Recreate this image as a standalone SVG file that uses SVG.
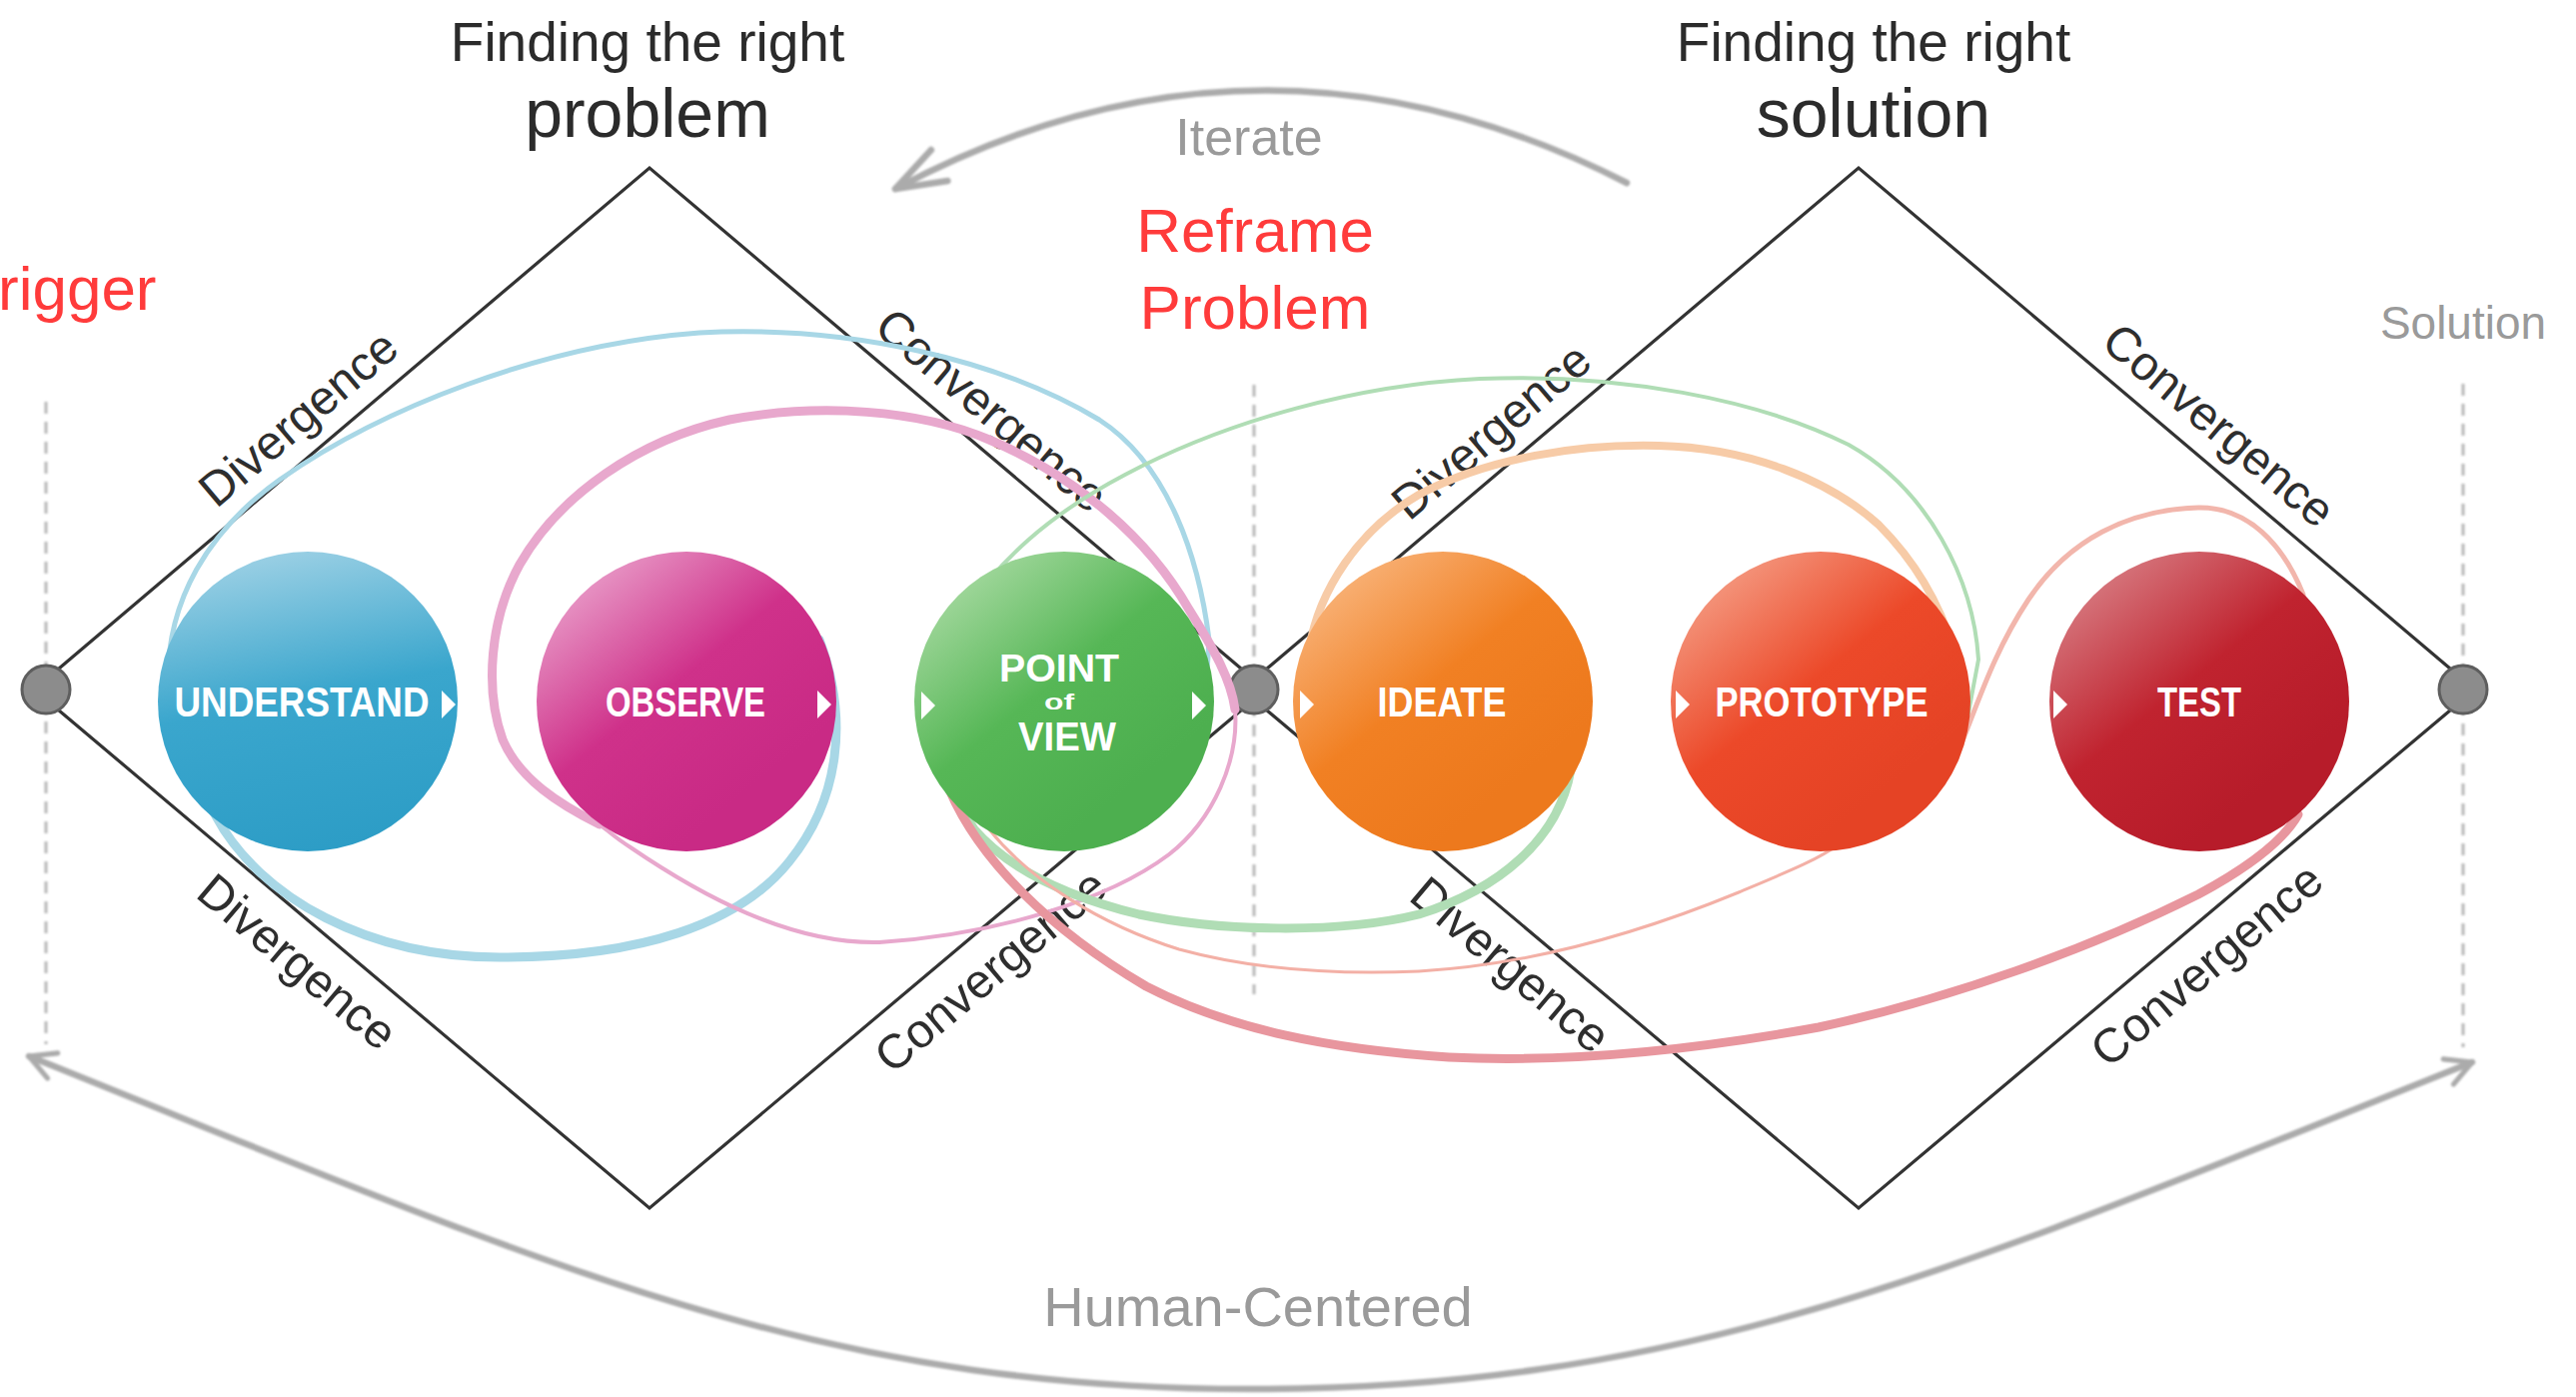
<svg xmlns="http://www.w3.org/2000/svg" width="2578" height="1398" viewBox="0 0 2578 1398">
<defs>
<style>
.title{font-family:"Liberation Sans",Arial,sans-serif;fill:#2b2b2b;text-anchor:middle}
.gray{font-family:"Liberation Sans",Arial,sans-serif;fill:#9a9a9a;text-anchor:middle}
.red{font-family:"Liberation Sans",Arial,sans-serif;fill:#FF3B3B;font-size:62px}
.lbl{font-family:"Liberation Sans",Arial,sans-serif;font-size:48px;fill:#2e2e2e;text-anchor:middle}
.edge{fill:none;stroke:#333;stroke-width:3.2;stroke-linejoin:miter}
.dash{fill:none;stroke:#b8b8b8;stroke-width:3;stroke-dasharray:12 8}
.dot{fill:#8c8c8c;stroke:#5e5e5e;stroke-width:3}
.arc{fill:none;stroke:#ababab;stroke-width:6.5;stroke-linecap:round}
.loop{fill:none;stroke-linecap:round}
.ntxt{font-family:"Liberation Sans",Arial,sans-serif;font-weight:bold;fill:#fff;text-anchor:middle}
.tri{fill:#fff}
</style>
<filter id="soft" x="-5%" y="-5%" width="110%" height="110%"><feGaussianBlur stdDeviation="0.9"/></filter>
<marker id="arrIter" viewBox="0 0 24 20" refX="22" refY="10" markerWidth="60" markerHeight="50" markerUnits="userSpaceOnUse" orient="auto">
<path d="M2,3 L22,10 L2,17" fill="none" stroke="#ababab" stroke-width="2.6" stroke-linecap="round" stroke-linejoin="round"/>
</marker>
<marker id="arrHuman" viewBox="0 0 20 20" refX="18" refY="10" markerWidth="34" markerHeight="34" markerUnits="userSpaceOnUse" orient="auto-start-reverse">
<path d="M3,2 L18,10 L3,18" fill="none" stroke="#ababab" stroke-width="3" stroke-linecap="round" stroke-linejoin="round"/>
</marker>
<linearGradient id="gU" x1="0.3" y1="0" x2="0.5" y2="1">
<stop offset="0" stop-color="#9ed1e5"/><stop offset="0.5" stop-color="#3aa6cd"/><stop offset="1" stop-color="#2d9dc6"/>
</linearGradient>
<linearGradient id="gO" x1="0.1" y1="0.05" x2="0.7" y2="0.8">
<stop offset="0" stop-color="#eba6ce"/><stop offset="0.55" stop-color="#cf318a"/><stop offset="1" stop-color="#c92a85"/>
</linearGradient>
<linearGradient id="gP" x1="0.1" y1="0.05" x2="0.7" y2="0.8">
<stop offset="0" stop-color="#acdca6"/><stop offset="0.55" stop-color="#56b756"/><stop offset="1" stop-color="#4daf4f"/>
</linearGradient>
<linearGradient id="gI" x1="0.1" y1="0.05" x2="0.7" y2="0.8">
<stop offset="0" stop-color="#f9b882"/><stop offset="0.55" stop-color="#f18023"/><stop offset="1" stop-color="#ed791d"/>
</linearGradient>
<linearGradient id="gR" x1="0.1" y1="0.05" x2="0.7" y2="0.8">
<stop offset="0" stop-color="#f5a28a"/><stop offset="0.55" stop-color="#ec4929"/><stop offset="1" stop-color="#e54325"/>
</linearGradient>
<linearGradient id="gT" x1="0.1" y1="0.05" x2="0.7" y2="0.8">
<stop offset="0" stop-color="#d98389"/><stop offset="0.55" stop-color="#c0232f"/><stop offset="1" stop-color="#b71c2a"/>
</linearGradient>
</defs>

<rect x="0" y="0" width="2578" height="1398" fill="#ffffff"/>

<g id="guides">
<g filter="url(#soft)">
<line class="dash" x1="46" y1="402" x2="46" y2="1045"/>
<line class="dash" x1="1255" y1="385" x2="1255" y2="995"/>
<line class="dash" x1="2465" y1="384" x2="2465" y2="1048"/>
<path class="arc" d="M1628,183 Q1260,-5 896,189" marker-end="url(#arrIter)"/>
<path class="arc" d="M29,1057 C529,1257 802,1390 1252,1390 C1702,1390 1974,1263 2474,1063" marker-start="url(#arrHuman)" marker-end="url(#arrHuman)"/>
</g>
<path class="edge" d="M46,680 L650,168 L1255,680 M1255,700 L650,1209 L46,700"/>
<path class="edge" d="M1255,680 L1860,168 L2465,680 M2465,700 L1860,1209 L1255,700"/>
</g>

<g id="dots">
<circle class="dot" cx="46" cy="690" r="24"/>
<circle class="dot" cx="1255" cy="690" r="24"/>
<circle class="dot" cx="2465" cy="690" r="24"/>
</g>

<g id="titles">
<text class="title" x="648" y="61" font-size="55">Finding the right</text>
<text class="title" x="648" y="137" font-size="68">problem</text>
<text class="title" x="1875" y="61" font-size="55">Finding the right</text>
<text class="title" x="1875" y="137" font-size="68">solution</text>
<text class="gray" x="1250" y="155" font-size="52">Iterate</text>
<text class="gray" x="2465" y="339" font-size="46">Solution</text>
<text class="gray" x="1259" y="1327" font-size="56">Human-Centered</text>
<text class="red" x="-2" y="310">rigger</text>
<text class="red" x="1256" y="252" text-anchor="middle">Reframe</text>
<text class="red" x="1256" y="329" text-anchor="middle">Problem</text>
</g>

<g id="edge-labels">
<text class="lbl" transform="translate(309,431) rotate(-40.3)">Divergence</text>
<text class="lbl" transform="translate(982,423) rotate(40.2)">Convergence</text>
<text class="lbl" transform="translate(287,975) rotate(40.1)">Divergence</text>
<text class="lbl" transform="translate(1002,984) rotate(-40.1)">Convergence</text>
<text class="lbl" transform="translate(1503,444) rotate(-40.2)">Divergence</text>
<text class="lbl" transform="translate(2210,438) rotate(40.2)">Convergence</text>
<text class="lbl" transform="translate(1501,978) rotate(40.1)">Divergence</text>
<text class="lbl" transform="translate(2219,978) rotate(-40.1)">Convergence</text>
</g>

<g id="connectors">
<path class="loop" stroke="#a8d7e6" stroke-width="9" d="M820,640 C850,720 840,800 790,862 C740,925 640,958 500,958 C370,958 260,900 215,815 C185,760 165,720 168,690"/>
<path class="loop" stroke="#a8d7e6" stroke-width="5" d="M168,690 C165,600 210,530 280,480 C380,410 540,345 700,333 C850,325 1000,360 1100,420 C1170,465 1200,560 1210,640 L1205,720"/>
<path class="loop" stroke="#e8a8cd" stroke-width="9" d="M600,825 C560,805 520,780 503,740 C485,690 490,620 520,565 C560,495 640,440 730,420 C820,403 920,410 990,440 C1080,478 1150,540 1190,610 C1215,650 1232,680 1236,710"/>
<path class="loop" stroke="#e8a8cd" stroke-width="4" d="M1236,710 C1240,760 1215,820 1170,855 C1110,900 1000,935 880,943 C790,945 700,895 631,848 C615,838 607,830 600,825"/>
<path class="loop" stroke="#b0ddb5" stroke-width="9" d="M1572,770 C1560,840 1500,890 1420,915 C1340,935 1220,932 1140,915 C1070,898 1010,870 975,830 L950,790"/>
<path class="loop" stroke="#b0ddb5" stroke-width="4" d="M960,620 C1000,560 1050,515 1126,475 C1230,420 1360,385 1481,379 C1620,373 1760,400 1850,445 C1930,490 1975,580 1980,660 L1965,740"/>
<path class="loop" stroke="#f7cba7" stroke-width="8" d="M1310,650 C1320,590 1360,530 1420,495 C1490,458 1580,444 1660,446 C1750,448 1830,480 1880,525 C1915,560 1940,600 1955,650"/>
<path class="loop" stroke="#f3b0a6" stroke-width="3" d="M990,830 C1030,880 1100,925 1180,950 C1260,972 1350,975 1420,972 C1540,965 1650,930 1740,893 C1790,872 1820,860 1840,845"/>
<path class="loop" stroke="#f2b6ac" stroke-width="5" d="M1950,775 C1975,720 1990,660 2030,600 C2070,540 2130,510 2200,508 C2250,507 2285,545 2305,595 L2295,640"/>
<path class="loop" stroke="#e8969e" stroke-width="9" d="M950,790 C980,860 1050,930 1147,987 C1230,1030 1330,1050 1450,1058 C1570,1064 1700,1050 1820,1028 C1950,1000 2090,950 2200,895 C2250,868 2285,842 2300,815"/>
</g>

<g id="node-understand">
<circle cx="308" cy="702" r="150" fill="url(#gU)"/>
<text class="ntxt" x="302" y="717" font-size="42" textLength="255" lengthAdjust="spacingAndGlyphs">UNDERSTAND</text>
<polygon class="tri" points="442,691 456,705 442,719"/>
</g>
<g id="node-observe">
<circle cx="687" cy="702" r="150" fill="url(#gO)"/>
<text class="ntxt" x="686" y="717" font-size="42" textLength="160" lengthAdjust="spacingAndGlyphs">OBSERVE</text>
<polygon class="tri" points="818,691 832,705 818,719"/>
</g>
<g id="node-pov">
<circle cx="1065" cy="702" r="150" fill="url(#gP)"/>
<text class="ntxt" x="1060" y="682" font-size="38" textLength="120" lengthAdjust="spacingAndGlyphs">POINT</text>
<text class="ntxt" x="1060" y="710" font-size="22" textLength="30" lengthAdjust="spacingAndGlyphs">of</text>
<text class="ntxt" x="1068" y="751" font-size="41" textLength="98" lengthAdjust="spacingAndGlyphs">VIEW</text>
<polygon class="tri" points="922,692 936,706 922,720"/>
<polygon class="tri" points="1193,692 1207,706 1193,720"/>
</g>
<g id="node-ideate">
<circle cx="1444" cy="702" r="150" fill="url(#gI)"/>
<text class="ntxt" x="1443" y="717" font-size="42" textLength="129" lengthAdjust="spacingAndGlyphs">IDEATE</text>
<polygon class="tri" points="1301,691 1315,705 1301,719"/>
</g>
<g id="node-prototype">
<circle cx="1822" cy="702" r="150" fill="url(#gR)"/>
<text class="ntxt" x="1823" y="717" font-size="42" textLength="213" lengthAdjust="spacingAndGlyphs">PROTOTYPE</text>
<polygon class="tri" points="1677,691 1691,705 1677,719"/>
</g>
<g id="node-test">
<circle cx="2201" cy="702" r="150" fill="url(#gT)"/>
<text class="ntxt" x="2201" y="717" font-size="42" textLength="84" lengthAdjust="spacingAndGlyphs">TEST</text>
<polygon class="tri" points="2055,691 2069,705 2055,719"/>
</g>
</svg>
